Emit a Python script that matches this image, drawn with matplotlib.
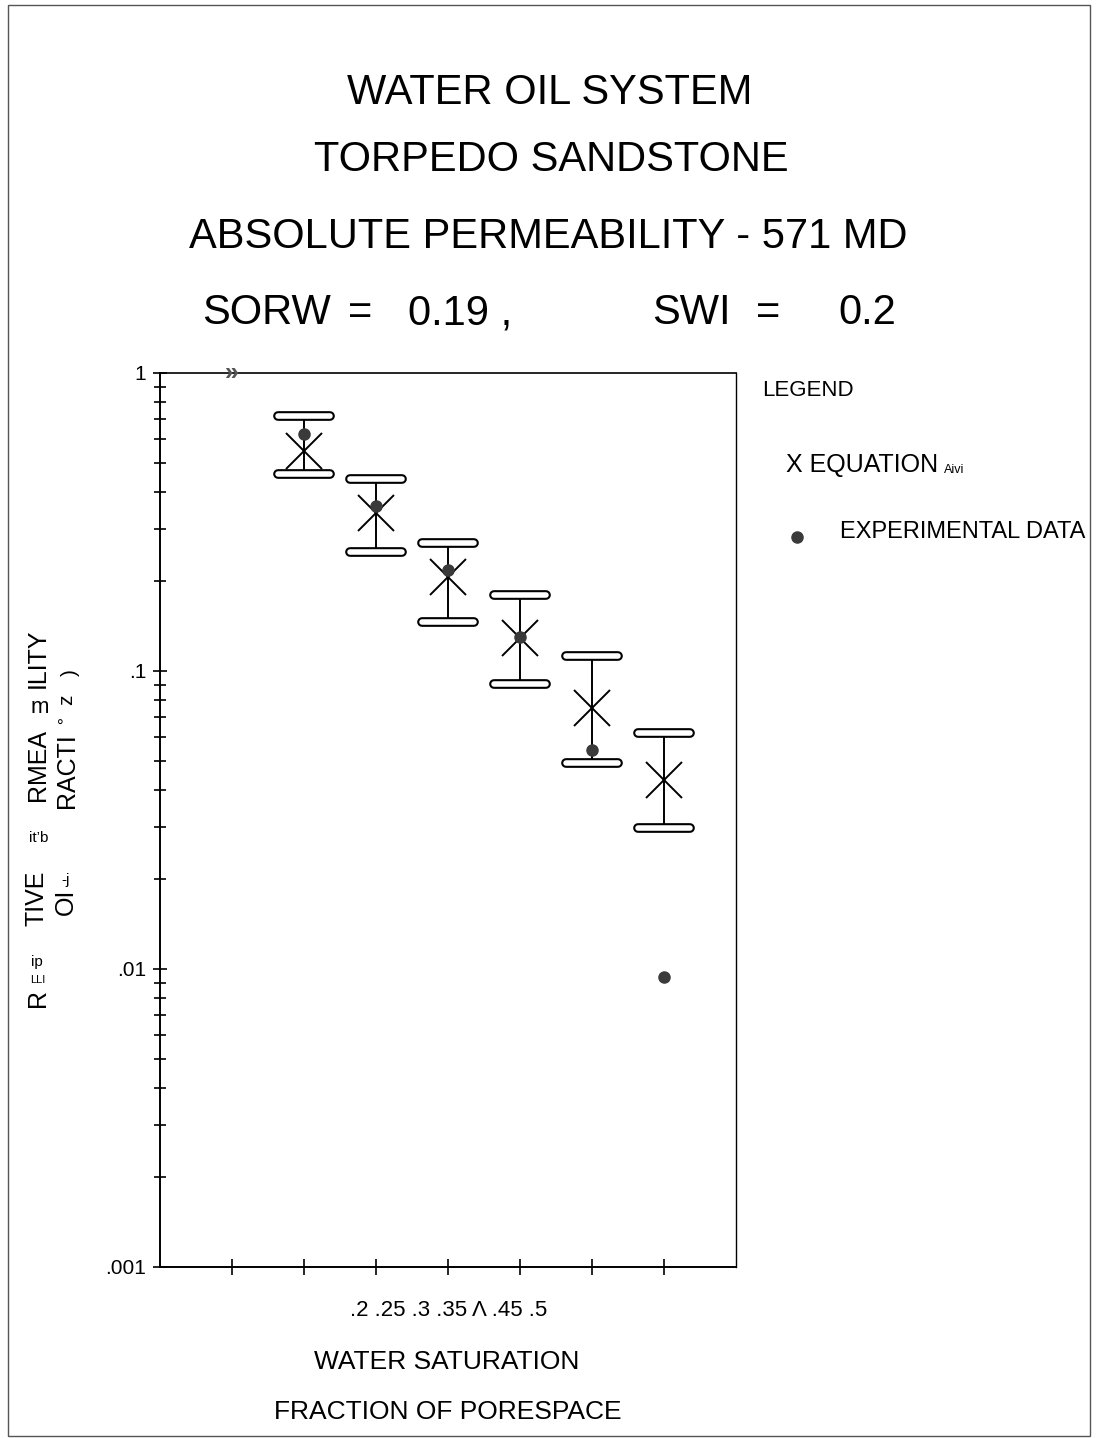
import matplotlib
matplotlib.use("Agg")
from matplotlib import pyplot as plt
from matplotlib.ticker import LogLocator, NullFormatter
from matplotlib.patches import Rectangle
from matplotlib.lines import Line2D
import numpy as np

# water saturation (fraction of porespace)
sw = [0.25, 0.30, 0.35, 0.40, 0.45, 0.50]
# equation values (X) and their error band (caps)
kr_eq = [0.547, 0.339, 0.207, 0.129, 0.0751, 0.0431]
kr_hi = [0.717, 0.441, 0.269, 0.180, 0.112, 0.0619]
kr_lo = [0.458, 0.251, 0.146, 0.0904, 0.0491, 0.0297]
# experimental data (dots)
kr_exp = [0.624, 0.358, 0.218, 0.130, 0.0543, 0.0094]

x_ticks = [0.2, 0.25, 0.3, 0.35, 0.4, 0.45, 0.5]
y_ticks = [0.001, 0.01, 0.1, 1]
y_tick_labels = ['.001', '.01', '.1', '1']

W, H = 1099, 1438
plt.rcParams['font.family'] = ['Liberation Sans', 'DejaVu Sans']


def px(x, y):
    return x / W, 1 - y / H


fig = plt.figure(figsize=(W / 100, H / 100), dpi=100)
fig.patches.append(Rectangle((8 / W, 1 - 1436 / H), 1082 / W, 1431 / H,
                             transform=fig.transFigure, fill=False,
                             edgecolor='#555555', linewidth=1))

ax = fig.add_axes([160 / W, 1 - 1267 / H, 576 / W, 894 / H])
ax.set_yscale('log')
ax.set_xlim(0.15, 0.55)
ax.set_ylim(0.001, 1)

for s in ax.spines.values():
    s.set_linewidth(1.4)
ax.spines['right'].set_linewidth(1.0)
ax.spines['top'].set_linewidth(1.2)

ax.set_xticks(x_ticks)
ax.set_xticklabels([])
ax.set_yticks(y_ticks)
ax.set_yticklabels(y_tick_labels, fontsize=15)
ax.yaxis.set_minor_locator(LogLocator(base=10, subs=np.arange(2, 10)))
ax.yaxis.set_minor_formatter(NullFormatter())
ax.tick_params(axis='x', direction='inout', length=12, width=1.2)
ax.tick_params(axis='y', which='major', direction='inout', length=10, width=1.2, pad=5)
ax.tick_params(axis='y', which='minor', direction='inout', length=8, width=1.2)

# error bars with capsule-like caps
ax.vlines(sw, kr_lo, kr_hi, color='black', linewidth=1.4, zorder=2)
dx = 0.018
for x, lo, hi in zip(sw, kr_lo, kr_hi):
    for y in (lo, hi):
        ax.plot([x - dx, x + dx], [y, y], color='black', linewidth=7,
                solid_capstyle='round', zorder=3)
        ax.plot([x - dx, x + dx], [y, y], color='white', linewidth=4,
                solid_capstyle='round', zorder=4)

ax.plot(sw, kr_eq, linestyle='none', marker='x', markersize=26,
        markeredgewidth=1.4, color='black', zorder=5)
ax.plot(sw, kr_exp, linestyle='none', marker='o', markersize=8,
        color='#3a3a3a', zorder=6)

ax.text(0.2, 1, '»', transform=ax.get_xaxis_transform(), ha='center',
        va='center', fontsize=18, fontweight='bold', color='#555555')

# titles
title_fs = 30
fig.text(*px(550, 93), 'WATER OIL SYSTEM', ha='center', va='center', fontsize=title_fs)
fig.text(*px(551, 160), 'TORPEDO SANDSTONE', ha='center', va='center', fontsize=title_fs)
fig.text(*px(548, 237), 'ABSOLUTE PERMEABILITY - 571 MD', ha='center', va='center', fontsize=title_fs)
fig.text(*px(266, 313), 'SORW', ha='center', va='center', fontsize=title_fs)
fig.text(*px(360, 313), '=', ha='center', va='center', fontsize=title_fs)
fig.text(*px(460, 313), '0.19 ,', ha='center', va='center', fontsize=title_fs)
fig.text(*px(691, 313), 'SWI', ha='center', va='center', fontsize=title_fs)
fig.text(*px(768, 313), '=', ha='center', va='center', fontsize=title_fs)
fig.text(*px(867, 313), '0.2', ha='center', va='center', fontsize=title_fs)

# x axis texts
fig.text(*px(449, 1310), '.2 .25 .3 .35 \u039b .45 .5', ha='center', va='center', fontsize=16)
fig.text(*px(447, 1362), 'WATER SATURATION', ha='center', va='center', fontsize=19)
fig.text(*px(448, 1412), 'FRACTION OF PORESPACE', ha='center', va='center', fontsize=19)

# legend
fig.text(*px(762, 390), 'LEGEND', ha='left', va='center', fontsize=16)
fig.text(*px(786, 465), 'X EQUATION', ha='left', va='center', fontsize=18)
fig.text(*px(944, 470), 'Aivi', ha='left', va='center', fontsize=9)
fig.add_artist(Line2D([797 / W], [1 - 537 / H], transform=fig.transFigure,
                      marker='o', markersize=8, color='#3a3a3a', linestyle='none'))
fig.text(*px(840, 532), 'EXPERIMENTAL DATA', ha='left', va='center', fontsize=17)

# garbled y axis label (as scanned)
lab = dict(ha='center', va='center')
fig.text(*px(38, 998), 'R', rotation=90, fontsize=18, **lab)
fig.text(*px(38, 980), 'LLI', fontsize=8, **lab)
fig.text(*px(37, 962), 'ip', fontsize=11, **lab)
fig.text(*px(37, 898), 'TIVE', rotation=90, fontsize=18, **lab)
fig.text(*px(39, 838), 'it\u2019b', fontsize=11, **lab)
fig.text(*px(38, 765), 'RMEA', rotation=90, fontsize=18, **lab)
fig.text(*px(40, 708), 'm', fontsize=16, **lab)
fig.text(*px(38, 658), 'ILITY', rotation=90, fontsize=18, **lab)
fig.text(*px(66, 880), '-j', fontsize=11, **lab)
fig.text(*px(66, 902), 'OI', rotation=90, fontsize=18, **lab)
fig.text(*px(67, 771), 'RACTI', rotation=90, fontsize=18, **lab)
fig.text(*px(60, 727), '\u00b0', fontsize=12, **lab)
fig.text(*px(67, 700), 'z', rotation=90, fontsize=15, **lab)
fig.text(*px(70, 673), ')', rotation=90, fontsize=15, **lab)

fig.savefig('out.png', dpi=100)
